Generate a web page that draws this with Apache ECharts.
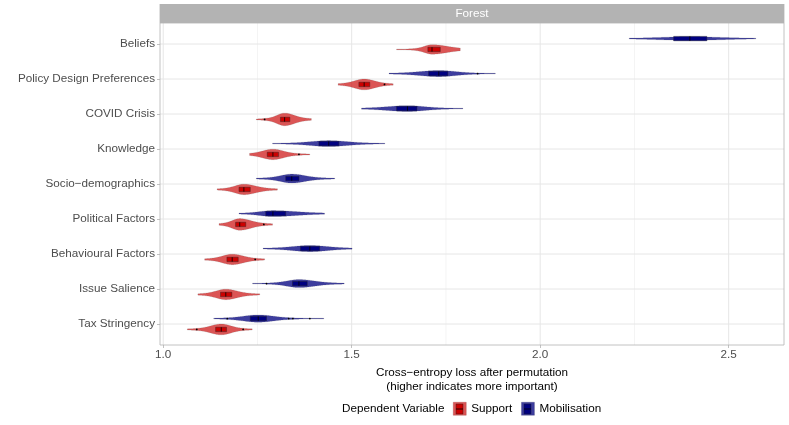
<!DOCTYPE html>
<html>
<head>
<meta charset="utf-8">
<script src="https://cdn.jsdelivr.net/npm/echarts@6/dist/echarts.min.js"></script>
<style>html,body{margin:0;padding:0;background:#fff}#c{width:789px;height:425px}</style>
</head>
<body>
<div id="c"></div>
<script>
const categories = ['Beliefs','Policy Design Preferences','COVID Crisis','Knowledge','Socio\u2212demographics','Political Factors','Behavioural Factors','Issue Salience','Tax Stringency'];
// [min, q1, median, q3, max] per category (top to bottom)
const supportStats = [
  [1.619, 1.702, 1.713, 1.735, 1.788],
  [1.464, 1.519, 1.533, 1.548, 1.610],
  [1.247, 1.311, 1.322, 1.336, 1.393],
  [1.229, 1.276, 1.291, 1.306, 1.389],
  [1.143, 1.201, 1.214, 1.231, 1.303],
  [1.148, 1.192, 1.203, 1.219, 1.290],
  [1.110, 1.169, 1.183, 1.199, 1.269],
  [1.092, 1.152, 1.166, 1.182, 1.256],
  [1.064, 1.139, 1.154, 1.168, 1.236]
];
const mobilisationStats = [
  [2.236, 2.354, 2.397, 2.442, 2.572],
  [1.599, 1.704, 1.731, 1.755, 1.881],
  [1.526, 1.619, 1.648, 1.673, 1.795],
  [1.290, 1.413, 1.439, 1.466, 1.588],
  [1.247, 1.325, 1.341, 1.360, 1.455],
  [1.201, 1.272, 1.291, 1.325, 1.428],
  [1.265, 1.364, 1.389, 1.415, 1.501],
  [1.237, 1.343, 1.360, 1.382, 1.480],
  [1.134, 1.231, 1.252, 1.274, 1.426]
];
// [category index, value]
const supportOutliers = [[1,1.587],[2,1.269],[3,1.360],[5,1.267],[6,1.244],[8,1.089],[8,1.212]];
const mobilisationOutliers = [[1,1.834],[7,1.274],[8,1.170],[8,1.333],[8,1.344],[8,1.389]];
const xMajorTicks = [1.0, 1.5, 2.0, 2.5];
const xMinorTicks = [1.25, 1.75, 2.25];

const FONT = 'Liberation Sans, Arial, Helvetica, sans-serif';
const FS = 11.7;
const DODGE = 0.155;
const K = 44;
const RED_FILL = 'rgba(205,20,20,0.72)', RED_BOX = '#cc0000';
const BLUE_FILL = 'rgba(0,0,128,0.76)', BLUE_BOX = '#000080';

function violinRender(fill, boxFill, side) {
  return function (params, api) {
    const ci = api.value(0);
    const vmin = api.value(1), q1 = api.value(2), med = api.value(3), q3 = api.value(4), vmax = api.value(5);
    const c = api.coord([med, ci]);
    const band = api.size([0, 1])[1];
    const pxPer = api.size([1, 0])[0];
    const cy = c[1] + side * band * DODGE;
    const sL = Math.max((med - q1) / 0.6745 * pxPer, 1);
    const sR = Math.max((q3 - med) / 0.6745 * pxPer, 1);
    const H = Math.min(K / ((sL + sR) / 2), band * 0.22);
    const x0 = api.coord([vmin, ci])[0], x1 = api.coord([vmax, ci])[0];
    const N = 140, top = [], bot = [];
    for (let i = 0; i <= N; i++) {
      const x = x0 + (x1 - x0) * i / N;
      const z = (x - c[0]) / (x < c[0] ? sL : sR);
      const a = z / 1.15, b = z / 2.8;
      let w = H * (0.72 * Math.exp(-0.5 * a * a) + 0.28 * Math.exp(-0.5 * b * b));
      w = Math.max(w, 0.35);
      top.push([x, cy - w]);
      bot.push([x, cy + w]);
    }
    const pts = top.concat(bot.reverse());
    const bx0 = api.coord([q1, ci])[0], bx1 = api.coord([q3, ci])[0];
    const bh = 2.2;
    return {
      type: 'group',
      children: [
        { type: 'polygon', shape: { points: pts, smooth: 0 }, style: { fill: fill, stroke: 'rgba(90,90,90,0.4)', lineWidth: 0.4 } },
        { type: 'rect', shape: { x: bx0, y: cy - bh, width: bx1 - bx0, height: bh * 2 }, style: { fill: boxFill, stroke: '#222', lineWidth: 0.4 } },
        { type: 'line', shape: { x1: c[0], y1: cy - bh, x2: c[0], y2: cy + bh }, style: { stroke: '#000', lineWidth: 0.8 } }
      ]
    };
  };
}

function outlierRender(side) {
  return function (params, api) {
    const ci = api.value(0);
    const p = api.coord([api.value(1), ci]);
    const band = api.size([0, 1])[1];
    return { type: 'circle', shape: { cx: p[0], cy: p[1] + side * band * DODGE, r: 0.9 }, style: { fill: '#000' } };
  };
}

function legendGlyph(x, fill) {
  return [
    { type: 'rect', z: 20, shape: { x: x + 3, y: 403.5, width: 7, height: 10 }, style: { fill: fill, stroke: '#222', lineWidth: 0.4 } },
    { type: 'line', z: 21, shape: { x1: x + 3, y1: 408.5, x2: x + 10, y2: 408.5 }, style: { stroke: '#000', lineWidth: 0.8 } }
  ];
}

const chart = echarts.init(document.getElementById('c'), null, { renderer: 'canvas' });
const option = {
  animation: false,
  backgroundColor: '#fff',
  textStyle: { fontFamily: FONT },
  grid: { left: 160, width: 624, top: 26.5, height: 315, containLabel: false },
  xAxis: {
    type: 'value', min: 0.9915, max: 2.6467, offset: 3.5,
    axisLine: { show: false },
    axisTick: { show: true, length: 3, customValues: xMajorTicks, lineStyle: { color: '#b3b3b3', width: 0.8 } },
    axisLabel: { customValues: xMajorTicks, formatter: v => Number(v).toFixed(1), color: '#4d4d4d', fontSize: FS, fontFamily: FONT, margin: 4 },
    splitLine: { show: false },
    name: 'Cross\u2212entropy loss after permutation\n(higher indicates more important)',
    nameLocation: 'middle', nameGap: 13,
    nameTextStyle: { color: '#000', fontSize: FS, fontFamily: FONT, lineHeight: 14, align: 'center', verticalAlign: 'top' }
  },
  yAxis: {
    type: 'category', data: categories, inverse: true,
    axisLine: { show: false },
    axisTick: { show: true, alignWithLabel: true, length: 3, lineStyle: { color: '#b3b3b3', width: 0.8 } },
    axisLabel: { color: '#4d4d4d', fontSize: FS, fontFamily: FONT, margin: 5 },
    splitLine: { show: false }
  },
  legend: {
    data: [
      { name: 'Support', itemStyle: { color: RED_FILL, borderColor: 'rgba(150,60,60,0.6)', borderWidth: 0.5 } },
      { name: 'Mobilisation', itemStyle: { color: BLUE_FILL, borderColor: 'rgba(60,60,110,0.6)', borderWidth: 0.5 } }
    ],
    left: 453, top: 402, padding: 0, icon: 'rect', itemWidth: 13, itemHeight: 13, itemGap: 9,
    textStyle: { color: '#000', fontSize: FS, fontFamily: FONT }
  },
  graphic: [
    { type: 'rect', z: 0, shape: { x: 159.6, y: 4, width: 624.8, height: 19 }, style: { fill: '#b3b3b3' } },
    { type: 'text', z: 1, x: 472, y: 13.8, style: { text: 'Forest', fill: '#fff', font: FS + 'px ' + FONT, textAlign: 'center', textVerticalAlign: 'middle' } },
    { type: 'rect', z: 10, shape: { x: 160, y: 23, width: 624, height: 322 }, style: { fill: 'none', stroke: '#b3b3b3', lineWidth: 0.8 } },
    { type: 'text', x: 342, y: 408.5, style: { text: 'Dependent Variable', fill: '#000', font: FS + 'px ' + FONT, textAlign: 'left', textVerticalAlign: 'middle' } }
  ].concat(legendGlyph(453, RED_BOX)).concat(legendGlyph(521, BLUE_BOX)).map(g => { if (g.type !== 'text' && g.z === 20) { g.shape.y = 404; } if (g.z === 21) { g.shape.y1 = g.shape.y2 = 409; } return g; }),
  series: [
    {
      type: 'custom', name: 'vgrid', z: 1, silent: true,
      data: xMajorTicks.map(v => [v, 0, 1]).concat(xMinorTicks.map(v => [v, 0, 0])),
      encode: { x: 0, y: 1 },
      renderItem: function (params, api) {
        const x = api.coord([api.value(0), 0])[0];
        const cs = params.coordSys;
        const pad = api.size([0, 1])[1] * 0.1;
        const major = api.value(2) === 1;
        return { type: 'line', shape: { x1: x, y1: cs.y - pad, x2: x, y2: cs.y + cs.height + pad },
          style: { stroke: major ? '#e6e6e6' : '#f1f1f1', lineWidth: major ? 1 : 0.8 } };
      }
    },
    {
      type: 'custom', name: 'hgrid', z: 1, silent: true,
      data: categories.map((c, i) => [1, i]),
      encode: { x: 0, y: 1 },
      renderItem: function (params, api) {
        const y = api.coord([1, api.value(1)])[1];
        const cs = params.coordSys;
        return { type: 'line', shape: { x1: cs.x, y1: y, x2: cs.x + cs.width, y2: y },
          style: { stroke: '#e6e6e6', lineWidth: 1 } };
      }
    },
    {
      type: 'custom', name: 'Support', z: 3,
      itemStyle: { color: RED_FILL },
      data: supportStats.map((s, i) => [i].concat(s)),
      encode: { y: 0, x: [1, 2, 3, 4, 5] },
      renderItem: violinRender(RED_FILL, RED_BOX, 1)
    },
    {
      type: 'custom', name: 'Mobilisation', z: 3,
      itemStyle: { color: BLUE_FILL },
      data: mobilisationStats.map((s, i) => [i].concat(s)),
      encode: { y: 0, x: [1, 2, 3, 4, 5] },
      renderItem: violinRender(BLUE_FILL, BLUE_BOX, -1)
    },
    {
      type: 'custom', name: 'Support outliers', z: 4, silent: true,
      data: supportOutliers, encode: { y: 0, x: 1 },
      renderItem: outlierRender(1)
    },
    {
      type: 'custom', name: 'Mobilisation outliers', z: 4, silent: true,
      data: mobilisationOutliers, encode: { y: 0, x: 1 },
      renderItem: outlierRender(-1)
    }
  ]
};
chart.setOption(option);
</script>
</body>
</html>
